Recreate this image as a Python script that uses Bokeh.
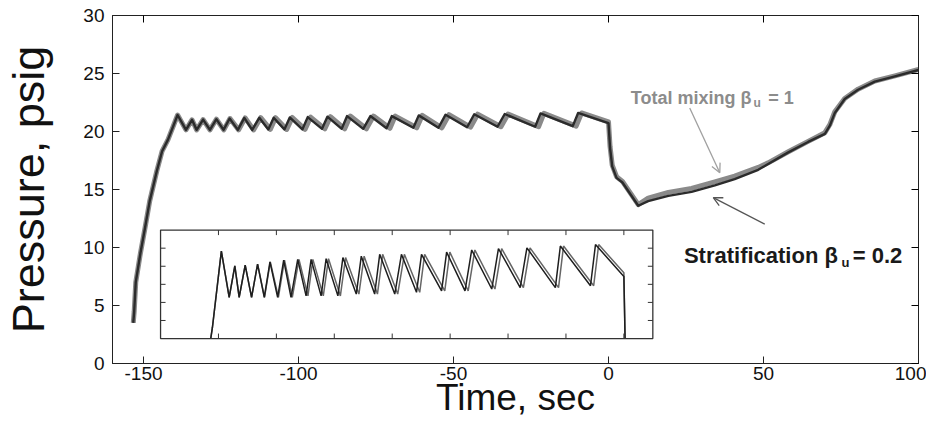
from bokeh.plotting import figure
from bokeh.models import (Range1d, LinearAxis, FixedTicker, CustomJSTickFormatter,
                          Label, Arrow, OpenHead)
from bokeh.embed import file_html
from bokeh.resources import INLINE

# ---------------- data ----------------
# Stratification beta_u = 0.2 (dark curve)
t_strat = [-153.3, -153.0, -152.5, -151.0, -149.5, -148.0, -145.7, -144.0, -142.1, -139.0,
           -136.3, -134.35, -132.85, -130.77, -128.57, -126.49, -124.18, -122.22, -119.56, -117.48,
           -114.94, -112.63, -109.74, -108.01, -104.55, -102.82, -98.76, -97.03, -92.41, -90.68,
           -86.06, -84.32, -79.12, -76.81, -71.61, -69.88, -62.95, -61.21, -54.86, -52.55,
           -45.62, -43.31, -35.80, -33.48, -23.66, -21.93, -11.53, -9.80, 0.0, 0.5,
           1.2, 2.6, 4.5, 9.6, 12.8, 19.3, 26.8, 34.3, 40.7, 48.3,
           51.5, 58.0, 64.4, 69.8, 71.4, 73.0, 76.2, 80.5, 85.9, 92.4, 100.0]
p_strat = [3.5, 4.5, 7.0, 9.5, 11.7, 14.0, 16.6, 18.3, 19.3, 21.42,
           20.14, 21.01, 20.14, 21.03, 20.14, 21.06, 20.14, 21.12, 20.14, 21.17,
           20.14, 21.19, 20.18, 21.19, 20.18, 21.21, 20.18, 21.24, 20.23, 21.28,
           20.23, 21.33, 20.23, 21.33, 20.28, 21.33, 20.32, 21.39, 20.32, 21.45,
           20.37, 21.49, 20.41, 21.51, 20.41, 21.56, 20.46, 21.60, 20.72, 18.6,
           17.0, 16.0, 15.6, 13.6, 14.0, 14.45, 14.8, 15.35, 15.9, 16.7,
           17.2, 18.2, 19.1, 19.8, 20.5, 21.6, 22.8, 23.6, 24.3, 24.75, 25.3]

# Total mixing beta_u = 1 (grey curve)
t_mix = [-153.3, -153.0, -152.5, -151.0, -149.5, -148.0, -145.7, -144.0, -142.1, -139.0,
         -136.3, -134.35, -132.85, -130.77, -128.57, -126.49, -124.1, -122.1, -119.3, -117.2,
         -114.5, -112.2, -109.1, -107.4, -103.8, -102.0, -97.9, -96.1, -91.5, -89.7,
         -85.1, -83.3, -78.1, -75.8, -70.5, -68.8, -61.85, -60.1, -53.76, -51.45,
         -44.52, -42.2, -34.7, -32.4, -22.56, -20.83, -10.43, -8.7, 0.0, 0.5,
         1.2, 2.6, 4.5, 9.6, 12.8, 19.3, 26.8, 34.3, 40.7, 48.3,
         51.5, 58.0, 64.4, 69.8, 71.4, 73.0, 76.2, 80.5, 85.9, 92.4, 100.0]
p_mix = [3.5, 4.5, 7.0, 9.5, 11.7, 14.0, 16.6, 18.3, 19.3, 21.42,
         20.14, 21.01, 20.14, 21.03, 20.14, 21.06, 20.14, 21.12, 20.14, 21.17,
         20.14, 21.19, 20.18, 21.19, 20.18, 21.21, 20.18, 21.24, 20.23, 21.28,
         20.23, 21.33, 20.23, 21.33, 20.28, 21.33, 20.32, 21.39, 20.32, 21.45,
         20.37, 21.49, 20.41, 21.51, 20.41, 21.56, 20.46, 21.60, 20.82, 18.7,
         17.1, 16.1, 15.7, 13.7, 14.25, 14.75, 15.1, 15.65, 16.15, 16.9,
         17.3, 18.25, 19.15, 19.9, 20.6, 21.7, 22.85, 23.65, 24.35, 24.8, 25.35]

x_ticks = [-150, -100, -50, 0, 50, 100]
y_ticks = [0, 5, 10, 15, 20, 25, 30]
X_RANGE = (-160, 100)
Y_RANGE = (0, 30)

# inset: zoom of the plateau
INSET_X = (-160, 10)
INSET_Y = (19, 22)
inset_xticks = [-140, -120, -100, -80, -60, -40, -20, 0]
inset_yticks = [19.5, 20, 20.5, 21, 21.5]

# ---------------- layout constants ----------------
W, H = 926, 420
ML, MR, MT, MB = 112, 8, 15, 57
FW = W - ML - MR
FH = H - MT - MB
BOX_X = (-144.5, 14.3)   # inset box position in main data units
BOX_Y = (2.15, 11.5)
FONT = "Liberation Sans"


def clip_poly(xs, ys, x0, x1, y0, y1):
    out_x, out_y = [], []
    cx, cy = [], []

    def flush():
        nonlocal cx, cy
        if len(cx) > 1:
            out_x.append(cx)
            out_y.append(cy)
        cx, cy = [], []

    for i in range(len(xs) - 1):
        ax, ay, bx, by = xs[i], ys[i], xs[i + 1], ys[i + 1]
        dx, dy = bx - ax, by - ay
        u0, u1 = 0.0, 1.0
        ok = True
        for pp, qq in ((-dx, ax - x0), (dx, x1 - ax), (-dy, ay - y0), (dy, y1 - ay)):
            if pp == 0:
                if qq < 0:
                    ok = False
                    break
            else:
                r = qq / pp
                if pp < 0:
                    u0 = max(u0, r)
                else:
                    u1 = min(u1, r)
        if not ok or u0 > u1:
            flush()
            continue
        sx, sy = ax + u0 * dx, ay + u0 * dy
        ex, ey = ax + u1 * dx, ay + u1 * dy
        if u0 > 0 or not cx:
            flush()
            cx, cy = [sx], [sy]
        cx.append(ex)
        cy.append(ey)
        if u1 < 1:
            flush()
    flush()
    return out_x, out_y


def extra_range(main, box, inset):
    f0 = (box[0] - main[0]) / (main[1] - main[0])
    f1 = (box[1] - main[0]) / (main[1] - main[0])
    span = (inset[1] - inset[0]) / (f1 - f0)
    s = inset[0] - f0 * span
    return Range1d(s, s + span)


p = figure(width=W, height=H, x_range=Range1d(*X_RANGE), y_range=Range1d(*Y_RANGE),
           output_backend="svg", toolbar_location=None,
           min_border_left=ML, min_border_right=MR, min_border_top=MT, min_border_bottom=MB,
           x_axis_label="Time, sec", y_axis_label="Pressure, psig")
p.grid.visible = False
p.outline_line_color = "#222222"
p.background_fill_color = "white"
p.border_fill_color = "white"

plain = CustomJSTickFormatter(code="return tick.toString()")
for ax in (p.xaxis[0], p.yaxis[0]):
    ax.major_tick_in = 7
    ax.major_tick_out = 0
    ax.minor_tick_line_color = None
    ax.axis_line_color = "#222222"
    ax.major_tick_line_color = "#222222"
    ax.major_label_text_font = FONT
    ax.major_label_text_font_size = "19px"
    ax.major_label_text_color = "#111111"
    ax.axis_label_text_font = FONT
    ax.axis_label_text_font_style = "normal"
    ax.axis_label_text_color = "#111111"
    ax.formatter = plain
p.xaxis[0].ticker = FixedTicker(ticks=x_ticks)
p.yaxis[0].ticker = FixedTicker(ticks=y_ticks)
p.xaxis[0].axis_label_text_font_size = "37px"
p.yaxis[0].axis_label_text_font_size = "45px"
p.xaxis[0].major_label_standoff = 3
p.xaxis[0].axis_label_standoff = -6
p.yaxis[0].major_label_standoff = 8
p.yaxis[0].axis_label_standoff = 26

blank = CustomJSTickFormatter(code="return ''")
top = LinearAxis(ticker=FixedTicker(ticks=x_ticks), formatter=blank, major_tick_in=7,
                 major_tick_out=0, minor_tick_line_color=None, major_label_standoff=0,
                 axis_line_color="#222222")
right = LinearAxis(ticker=FixedTicker(ticks=y_ticks), formatter=blank, major_tick_in=7,
                   major_tick_out=0, minor_tick_line_color=None, major_label_standoff=0,
                   axis_line_color="#222222")
p.add_layout(top, "above")
p.add_layout(right, "right")

# main curves
p.line(t_mix, p_mix, line_color="#8a8a8a", line_width=5, line_join="round")
p.line(t_strat, p_strat, line_color="#2b2b2b", line_width=2.4, line_join="round")

# inset
p.extra_x_ranges = {"ix": extra_range(X_RANGE, BOX_X, INSET_X)}
p.extra_y_ranges = {"iy": extra_range(Y_RANGE, BOX_Y, INSET_Y)}
p.quad(left=[INSET_X[0]], right=[INSET_X[1]], bottom=[INSET_Y[0]], top=[INSET_Y[1]],
       x_range_name="ix", y_range_name="iy", fill_color="white",
       line_color="#333333", line_width=1.3)

box_px_w = (BOX_X[1] - BOX_X[0]) / (X_RANGE[1] - X_RANGE[0]) * FW
box_px_h = (BOX_Y[1] - BOX_Y[0]) / (Y_RANGE[1] - Y_RANGE[0]) * FH
lx = 5 * (INSET_X[1] - INSET_X[0]) / box_px_w
ly = 5 * (INSET_Y[1] - INSET_Y[0]) / box_px_h
sx0 = inset_xticks * 2
sx1 = inset_xticks * 2
sy0 = [INSET_Y[0]] * len(inset_xticks) + [INSET_Y[1]] * len(inset_xticks)
sy1 = [INSET_Y[0] + ly] * len(inset_xticks) + [INSET_Y[1] - ly] * len(inset_xticks)
sx0 += [INSET_X[0]] * len(inset_yticks) + [INSET_X[1]] * len(inset_yticks)
sx1 += [INSET_X[0] + lx] * len(inset_yticks) + [INSET_X[1] - lx] * len(inset_yticks)
sy0 += inset_yticks * 2
sy1 += inset_yticks * 2
p.segment(x0=sx0, y0=sy0, x1=sx1, y1=sy1, x_range_name="ix", y_range_name="iy",
          line_color="#333333", line_width=1)

mx, my = clip_poly(t_mix, p_mix, INSET_X[0], INSET_X[1], INSET_Y[0], INSET_Y[1])
sxs, sys_ = clip_poly(t_strat, p_strat, INSET_X[0], INSET_X[1], INSET_Y[0], INSET_Y[1])
p.multi_line(xs=mx, ys=my, x_range_name="ix", y_range_name="iy",
             line_color="#666666", line_width=1.5)
p.multi_line(xs=sxs, ys=sys_, x_range_name="ix", y_range_name="iy",
             line_color="#1e1e1e", line_width=1.5)

# annotations
grey = "#8c8c8c"
dark = "#1a1a1a"
p.add_layout(Label(x=46.1, y=22.86, text="Total mixing β", text_align="right",
                   text_baseline="alphabetic", text_font=FONT, text_font_size="18px",
                   text_font_style="bold", text_color=grey))
p.add_layout(Label(x=46.8, y=22.46, text="u", text_align="left",
                   text_baseline="alphabetic", text_font=FONT, text_font_size="12px",
                   text_font_style="bold", text_color=grey))
p.add_layout(Label(x=51.5, y=22.86, text="= 1", text_align="left",
                   text_baseline="alphabetic", text_font=FONT, text_font_size="18px",
                   text_font_style="bold", text_color=grey))

p.add_layout(Label(x=74.0, y=9.3, text="Stratification β", text_align="right",
                   text_baseline="alphabetic", text_font=FONT, text_font_size="22px",
                   text_font_style="bold", text_color=dark))
p.add_layout(Label(x=75.2, y=8.72, text="u", text_align="left",
                   text_baseline="alphabetic", text_font=FONT, text_font_size="13px",
                   text_font_style="bold", text_color=dark))
p.add_layout(Label(x=78.8, y=9.3, text="= 0.2", text_align="left",
                   text_baseline="alphabetic", text_font=FONT, text_font_size="22px",
                   text_font_style="bold", text_color=dark))

p.add_layout(Arrow(end=OpenHead(size=9, line_color="#a0a0a0", line_width=1.3),
                   x_start=26.2, y_start=22.03, x_end=35.9, y_end=16.45,
                   line_color="#a0a0a0", line_width=1.3))
p.add_layout(Arrow(end=OpenHead(size=9, line_color="#555555", line_width=1.3),
                   x_start=50.4, y_start=12.02, x_end=33.8, y_end=14.3,
                   line_color="#555555", line_width=1.3))

open("out.html", "w").write(file_html(p, INLINE))
